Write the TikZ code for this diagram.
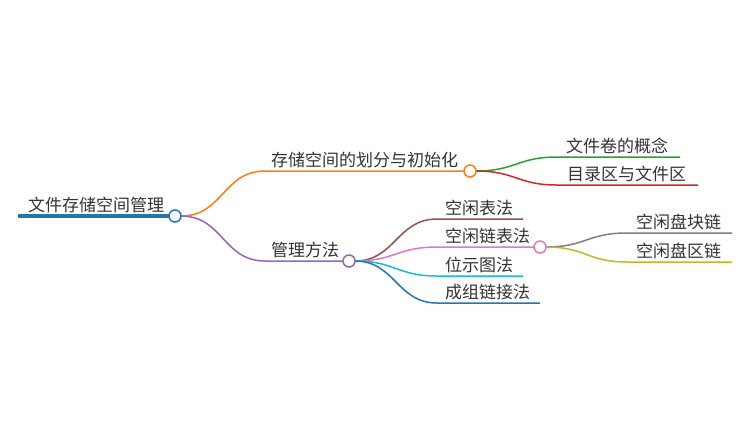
\documentclass[tikz,border=0pt]{standalone}
\usepackage{fontspec}
\setmainfont{Noto Sans CJK SC}
\usetikzlibrary{calc}
\definecolor{cA}{HTML}{1F77B4}
\definecolor{cB}{HTML}{FF7F0E}
\definecolor{cC}{HTML}{2CA02C}
\definecolor{cD}{HTML}{D62728}
\definecolor{cE}{HTML}{9467BD}
\definecolor{cF}{HTML}{8C564B}
\definecolor{cG}{HTML}{E377C2}
\definecolor{cH}{HTML}{7F7F7F}
\definecolor{cI}{HTML}{BCBD22}
\definecolor{cJ}{HTML}{17BECF}
\definecolor{txt}{HTML}{333333}
\tikzset{
  lbl/.style={anchor=base west, inner sep=0pt, text=txt, font=\fontsize{17}{20}\selectfont},
  circ/.style={circle, minimum size=12pt, inner sep=0pt, fill=white, line width=1.5pt},
  link/.style={line width=1.5pt},
}
\begin{document}
\begin{tikzpicture}[x=1pt,y=-1pt]
\fill[white] (0,0) rectangle (750,437);
\useasboundingbox (0,0) rectangle (750,437);
% centers of circles
\coordinate (rootc) at (175,216);
\coordinate (b1c) at (470,171);
\coordinate (b2c) at (349,261);
\coordinate (b22c) at (540,247);
% starts of underlines
\coordinate (rootL) at (18,216);
\coordinate (b1s) at (265,171);
\coordinate (b2s) at (265,261);
\coordinate (c11s) at (557,157);
\coordinate (c11e) at (680,157);
\coordinate (c12s) at (557,185);
\coordinate (c12e) at (698,185);
\coordinate (c21s) at (437,219);
\coordinate (c21e) at (523,219);
\coordinate (c22s) at (437,247);
\coordinate (c23s) at (437,276);
\coordinate (c23e) at (523,276);
\coordinate (c24s) at (437,303);
\coordinate (c24e) at (540,303);
\coordinate (d1s) at (627,233);
\coordinate (d1e) at (732,233);
\coordinate (d2s) at (627,262);
\coordinate (d2e) at (732,262);
% root underline
\draw[cA, line width=4pt] (rootL) -- (rootc);
% level 1
\draw[link, cB] ($(rootc)+(6,0)$) .. controls +(42,0) and +(-42,0) .. (b1s) -- (b1c);
\draw[link, cE] ($(rootc)+(6,0)$) .. controls +(42,0) and +(-42,0) .. (b2s) -- (b2c);
% children of b1
\draw[link, cC] ($(b1c)+(6,0)$) .. controls +(40,0) and +(-40,0) .. (c11s) -- (c11e);
\draw[link, cD] ($(b1c)+(6,0)$) .. controls +(40,0) and +(-40,0) .. (c12s) -- (c12e);
% children of b2
\draw[link, cF] ($(b2c)+(6,0)$) .. controls +(40,0) and +(-40,0) .. (c21s) -- (c21e);
\draw[link, cG] ($(b2c)+(6,0)$) .. controls +(40,0) and +(-40,0) .. (c22s) -- (b22c);
\draw[link, cJ] ($(b2c)+(6,0)$) .. controls +(40,0) and +(-40,0) .. (c23s) -- (c23e);
\draw[link, cA] ($(b2c)+(6,0)$) .. controls +(40,0) and +(-40,0) .. (c24s) -- (c24e);
% children of b22
\draw[link, cH] ($(b22c)+(6,0)$) .. controls +(40,0) and +(-40,0) .. (d1s) -- (d1e);
\draw[link, cI] ($(b22c)+(6,0)$) .. controls +(40,0) and +(-40,0) .. (d2s) -- (d2e);
% circles
\node[circ, draw=cA] (rootC) at (rootc) {};
\node[circ, draw=cB] (b1C) at (b1c) {};
\node[circ, draw=cE] (b2C) at (b2c) {};
\node[circ, draw=cG] (b22C) at (b22c) {};
% labels
\node[lbl] (troot) at (28,211) {文件存储空间管理};
\node[lbl] (tb1) at (271,166) {存储空间的划分与初始化};
\node[lbl] (tb2) at (271,256) {管理方法};
\node[lbl] (tc11) at (566,152) {文件卷的概念};
\node[lbl] (tc12) at (567,180) {目录区与文件区};
\node[lbl] (tc21) at (445,214) {空闲表法};
\node[lbl] (tc22) at (445,242) {空闲链表法};
\node[lbl] (tc23) at (445,271) {位示图法};
\node[lbl] (tc24) at (445,298) {成组链接法};
\node[lbl] (td1) at (636,228) {空闲盘块链};
\node[lbl] (td2) at (636,257) {空闲盘区链};
\end{tikzpicture}
\end{document}
